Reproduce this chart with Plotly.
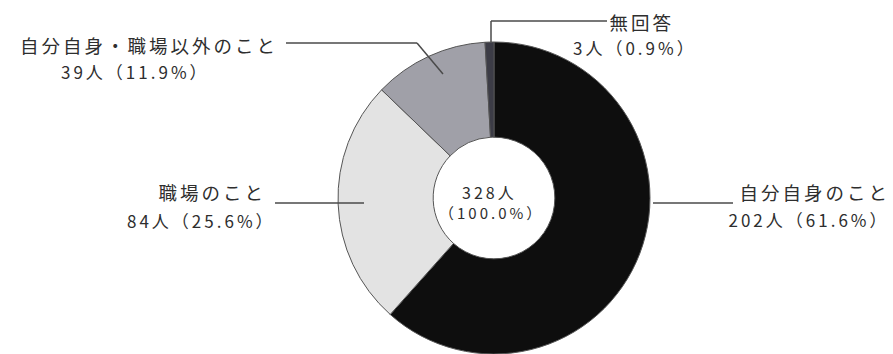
import plotly.graph_objects as go

# Survey breakdown: what respondents were worried about
categories = ["自分自身のこと", "職場のこと", "自分自身・職場以外のこと", "無回答"]
counts = [202, 84, 39, 3]
percents = [61.6, 25.6, 11.9, 0.9]
total_count = 328
total_percent = 100.0

slice_colors = ["#0e0e0e", "#e3e3e3", "#a0a0a8", "#3c3c46"]

W, H = 893, 354
FONT = "Noto Sans CJK JP"
TEXT_COLOR = "#2e2e2e"


def px(x):
    return x / W


def py(y):
    return 1 - y / H


fig = go.Figure()

fig.add_trace(go.Pie(
    labels=categories,
    values=counts,
    sort=False,
    direction="clockwise",
    rotation=0,
    hole=0.39,
    marker=dict(colors=slice_colors, line=dict(color="#555555", width=1)),
    textinfo="none",
    hoverinfo="label+value",
    showlegend=False,
    domain=dict(x=[px(338), px(650)], y=[0, py(42)]),
))

# Label layout per category: centre of name line, centre of value line,
# leader polyline (pixels from the top-left corner)
label_layout = {
    "自分自身のこと": dict(name=(815, 192), value=(809, 219),
                      leader=[(653, 203), (733, 203)]),
    "職場のこと": dict(name=(212, 192), value=(201, 220),
                   leader=[(275, 203), (364, 203)]),
    "自分自身・職場以外のこと": dict(name=(149, 45), value=(135, 71),
                          leader=[(286, 43), (417, 43), (443, 74)]),
    "無回答": dict(name=(642, 22), value=(635, 48),
                leader=[(607, 21), (491, 21), (491, 42)]),
}

annotations = []
shapes = []
for cat, n, pct in zip(categories, counts, percents):
    spec = label_layout[cat]
    x, y = spec["name"]
    annotations.append(dict(
        x=px(x), y=py(y), xref="paper", yref="paper", text=cat,
        showarrow=False, xanchor="center", yanchor="middle",
        font=dict(family=FONT, size=18.5, color=TEXT_COLOR)))
    x, y = spec["value"]
    annotations.append(dict(
        x=px(x), y=py(y), xref="paper", yref="paper",
        text=f"{n}人（{pct:.1f}%）",
        showarrow=False, xanchor="center", yanchor="middle",
        font=dict(family=FONT, size=17, color=TEXT_COLOR)))
    pts = spec["leader"]
    for (x0, y0), (x1, y1) in zip(pts[:-1], pts[1:]):
        shapes.append(dict(type="line", xref="paper", yref="paper",
                           x0=px(x0), y0=py(y0), x1=px(x1), y1=py(y1),
                           line=dict(color="#4a4a4a", width=1.5)))

# Total in the hole
annotations.append(dict(
    x=px(489), y=py(192), xref="paper", yref="paper",
    text=f"{total_count}人",
    showarrow=False, xanchor="center", yanchor="middle",
    font=dict(family=FONT, size=16, color=TEXT_COLOR)))
annotations.append(dict(
    x=px(491), y=py(213), xref="paper", yref="paper",
    text=f"（{total_percent:.1f}%）",
    showarrow=False, xanchor="center", yanchor="middle",
    font=dict(family=FONT, size=15, color=TEXT_COLOR)))

fig.update_layout(
    width=W, height=H,
    margin=dict(l=0, r=0, t=0, b=0),
    paper_bgcolor="white", plot_bgcolor="white",
    annotations=annotations, shapes=shapes,
)

# Wider tracking on the label text, as in print typesetting
spacing_js = """
document.querySelectorAll('.annotation-text').forEach(function (t) {
    t.style.letterSpacing = '3px';
});
"""

fig.write_html("out.html", post_script=spacing_js)
